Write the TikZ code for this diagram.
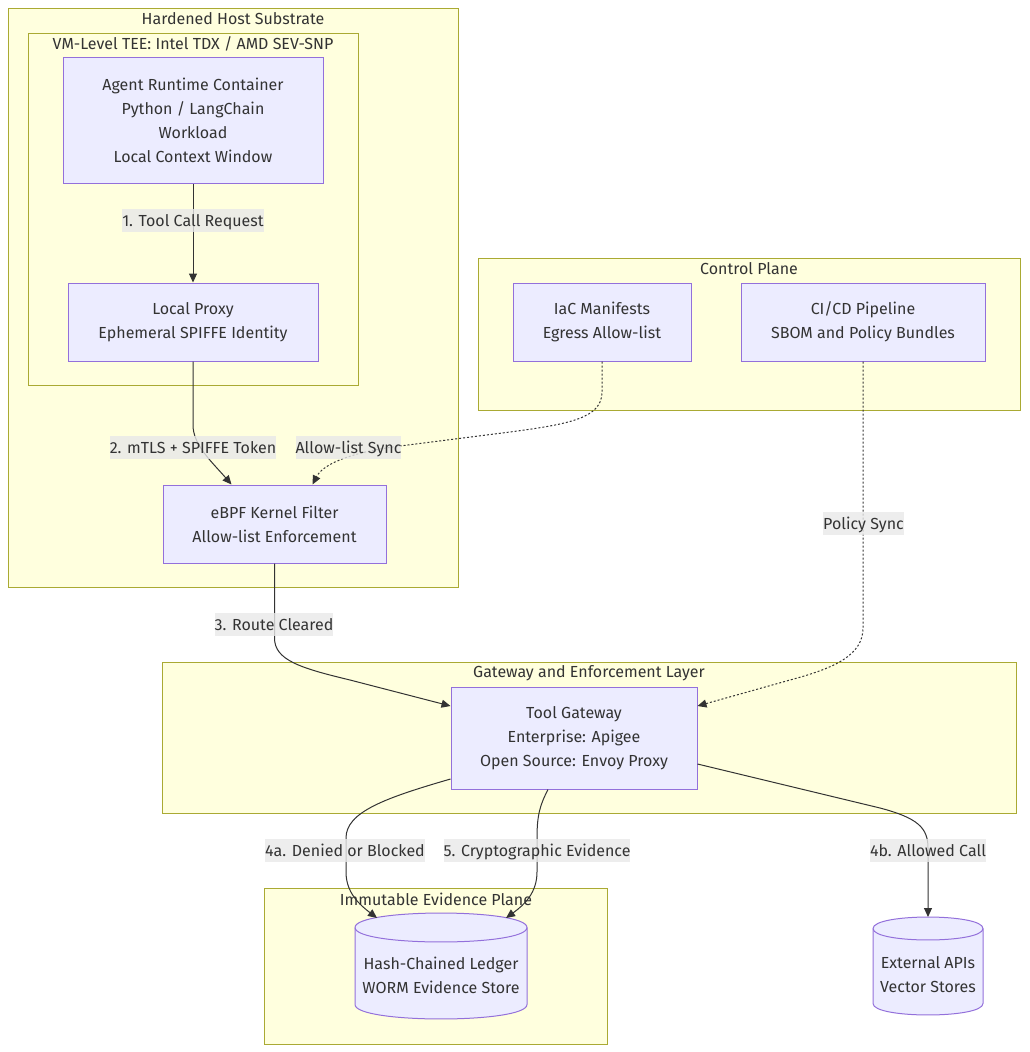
\documentclass[tikz,border=0pt]{standalone}
\usepackage{fontspec}
\setmainfont{Fira Sans}
\usetikzlibrary{arrows.meta}
\definecolor{clfill}{HTML}{FFFFDE}
\definecolor{clline}{HTML}{AAAA33}
\definecolor{ndfill}{HTML}{ECECFF}
\definecolor{ndline}{HTML}{9370DB}
\definecolor{txt}{HTML}{333333}
\definecolor{lblbg}{HTML}{E8E8E8}
\begin{document}
\begin{tikzpicture}[x=1pt,y=-1pt, font=\fontsize{16}{24}\selectfont, text=txt,
 cluster/.style={draw=clline, fill=clfill, line width=1pt, inner sep=0pt},
 box/.style={draw=ndline, fill=ndfill, line width=1pt, align=center, inner sep=0pt},
 ttl/.style={inner sep=0pt},
 plain/.style={align=center, inner sep=0pt},
 cyl/.style={draw=ndline, fill=ndfill, line width=1pt},
 elabel/.style={fill=lblbg, fill opacity=0.8, text opacity=1, inner xsep=0pt, inner ysep=0pt, text height=17.5pt, text depth=5.5pt},
 flow/.style={draw=txt, line width=1pt, -{Triangle[length=9pt,width=8pt]}},
 sync/.style={flow, dash pattern=on 2pt off 2pt}]
\useasboundingbox (0,0) rectangle (1029,1052);
% clusters
\node[cluster, minimum width=450, minimum height=579] (host) at (233,297.5) {};
\node[ttl] (hostT) at (233,19) {Hardened Host Substrate};
\node[cluster, minimum width=330, minimum height=352] (tee) at (193,209) {};
\node[ttl] (teeT) at (193,44) {VM-Level TEE: Intel TDX / AMD SEV-SNP};
\node[cluster, minimum width=542, minimum height=152] (ctrl) at (749,334) {};
\node[ttl] (ctrlT) at (749,269) {Control Plane};
\node[cluster, minimum width=854, minimum height=151] (gwl) at (589,737.5) {};
\node[ttl] (gwlT) at (589,673) {Gateway and Enforcement Layer};
\node[cluster, minimum width=343, minimum height=156] (evp) at (435.5,966) {};
\node[ttl] (evpT) at (436,899) {Immutable Evidence Plane};
% nodes
\node[box, minimum width=260, minimum height=126] (agent) at (193,120.5) {Agent Runtime Container\\Python / LangChain\\Workload\\Local Context Window};
\node[box, minimum width=250, minimum height=78] (proxy) at (193,322) {Local Proxy\\Ephemeral SPIFFE Identity};
\node[box, minimum width=223, minimum height=78] (ebpf) at (274.5,524) {eBPF Kernel Filter\\Allow-list Enforcement};
\node[box, minimum width=178, minimum height=78] (iac) at (602,322) {IaC Manifests\\Egress Allow-list};
\node[box, minimum width=244, minimum height=78] (cicd) at (863,322) {CI/CD Pipeline\\SBOM and Policy Bundles};
\node[box, minimum width=246, minimum height=102] (gw) at (574,738) {Tool Gateway\\Enterprise: Apigee\\Open Source: Envoy Proxy};
% cylinders
\path[cyl] (355,927.5) -- (355,1004.5) .. controls (355,1023.8) and (527,1023.8) .. (527,1004.5) -- (527,927.5) .. controls (527,908.2) and (355,908.2) .. (355,927.5) -- cycle;
\draw[ndline, line width=1pt] (355,927.5) .. controls (355,946.8) and (527,946.8) .. (527,927.5);
\node[plain] (ledger) at (441,975) {Hash-Chained Ledger\\WORM Evidence Store};
\coordinate (ledgerL) at (377,918);
\coordinate (ledgerR) at (506,918);
\path[cyl] (873,928.5) -- (873,1003.5) .. controls (873,1018.8) and (983,1018.8) .. (983,1003.5) -- (983,928.5) .. controls (983,913.2) and (873,913.2) .. (873,928.5) -- cycle;
\draw[ndline, line width=1pt] (873,928.5) .. controls (873,943.8) and (983,943.8) .. (983,928.5);
\node[plain] (ext) at (928,975) {External APIs\\Vector Stores};
\coordinate (extTop) at (928,917);
% edges
\draw[flow] (agent.south) -- (proxy.north);
\draw[flow] (proxy.south) -- (193,425) .. controls (193,445) and (212,462) .. ([xshift=69pt]ebpf.north west);
\draw[sync] (iac.south) -- (602,392) .. controls (602,418) and (570,424) .. (510,432) -- (400,446) .. controls (345,453) and (322,466) .. ([xshift=150pt]ebpf.north west);
\draw[flow] (ebpf.south) -- (274.5,638) .. controls (274.5,660) and (300,668) .. (350,680) -- ([yshift=32pt]gw.west);
\draw[sync] (cicd.south) -- (863,628) .. controls (863,655) and (835,668) .. (790,680) -- ([yshift=32pt]gw.east);
\draw[flow] ([yshift=-41pt]gw.west) .. controls (385,798) and (346,812) .. (346,838) -- (346,872) .. controls (346,893) and (360,905) .. (ledgerL);
\draw[flow] ([xshift=-26pt]gw.south) .. controls (540,805) and (537,815) .. (537,838) -- (537,872) .. controls (537,893) and (524,905) .. (ledgerR);
\draw[flow] ([yshift=-26pt]gw.east) -- (880,808) .. controls (918,818) and (928,828) .. (928,848) -- (extTop);
% edge labels
\node[elabel] (l1) at (193,220.5) {1. Tool Call Request};
\node[elabel] (l2) at (193,447.5) {2. mTLS + SPIFFE Token};
\node[elabel] (l3) at (348.5,447.5) {Allow-list Sync};
\node[elabel] (l4) at (274,624.5) {3. Route Cleared};
\node[elabel] (l5) at (863.5,523.5) {Policy Sync};
\node[elabel] (l6) at (345,850.5) {4a. Denied or Blocked};
\node[elabel] (l7) at (537,850.5) {5. Cryptographic Evidence};
\node[elabel] (l8) at (928,850.5) {4b. Allowed Call};
\end{tikzpicture}
\end{document}
